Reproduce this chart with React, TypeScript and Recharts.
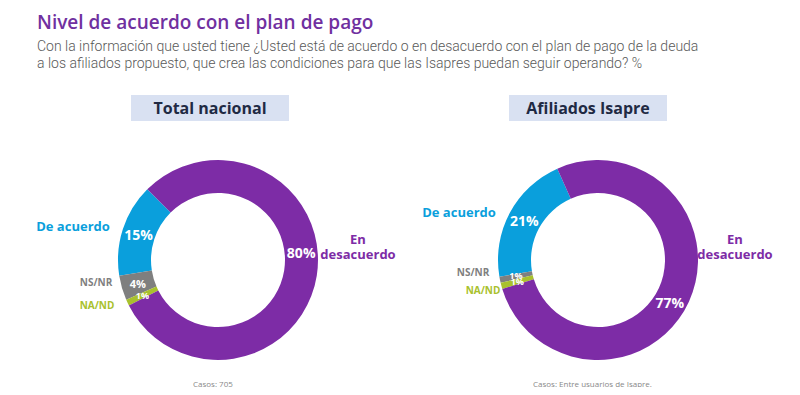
import React from "react";
import { PieChart, Pie, Cell } from "recharts";

const categories = ["De acuerdo", "NS/NR", "NA/ND", "En desacuerdo"];
const totalNacional = [15, 4, 1, 80];
const afiliadosIsapre = [21, 1, 1, 77];
const colors = ["#0a9fdc", "#7f7f7f", "#a9c12d", "#7d2ca6"];

const title = "Nivel de acuerdo con el plan de pago";
const subtitle1 =
  "Con la información que usted tiene ¿Usted está de acuerdo o en desacuerdo con el plan de pago de la deuda";
const subtitle2 =
  "a los afiliados propuesto, que crea las condiciones para que las Isapres puedan seguir operando?  %";

const font = "'Open Sans', 'Noto Sans', sans-serif";

const toRows = (values: number[]) =>
  categories.map((name, i) => ({ name, value: values[i] }));

const RAD = Math.PI / 180;

// nudges (degrees) for the in-ring percentage labels
const leftLabelTurn = [0, 0, 0, 14];
const rightLabelTurn = [0, -1, 0, -6];

const makePct = (turn: number[]) => (props: any) => {
  const { cx, cy, midAngle, innerRadius, outerRadius, value, index } = props;
  const r = (innerRadius + outerRadius) / 2;
  const a = (midAngle + (turn[index] || 0)) * RAD;
  const x = cx + r * Math.cos(-a);
  const y = cy + r * Math.sin(-a);
  const size = value < 2 ? 9 : value < 10 ? 11 : 14;
  return (
    <text
      x={x}
      y={y}
      fill="#fff"
      textAnchor="middle"
      dominantBaseline="central"
      fontFamily={font}
      fontWeight={700}
      fontSize={size}
    >
      {value}%
    </text>
  );
};

// outside category labels: [x, y] centres per chart
const leftLabelPos = [
  [73, 226],
  [96, 282],
  [97, 305],
];
const rightLabelPos = [
  [459, 212],
  [473, 272],
  [483, 290],
];

function Header({ x, w, text }: { x: number; w: number; text: string }) {
  return (
    <div
      style={{
        position: "absolute",
        left: x,
        top: 95,
        width: w,
        height: 26,
        background: "#d9e1f2",
        color: "#1f2a44",
        fontFamily: font,
        fontWeight: 700,
        fontSize: 16,
        lineHeight: "26px",
        textAlign: "center",
      }}
    >
      {text}
    </div>
  );
}

function OutLabel({ x, y, text, color, size }: any) {
  return (
    <div
      style={{
        position: "absolute",
        left: x,
        top: y,
        transform: "translate(-50%, -50%)",
        color,
        fontFamily: font,
        fontWeight: 700,
        fontSize: size,
        whiteSpace: "nowrap",
        textAlign: "center",
        lineHeight: "15px",
      }}
    >
      {text}
    </div>
  );
}

const footStyle: React.CSSProperties = {
  position: "absolute",
  top: 379,
  fontFamily: font,
  fontSize: 8,
  lineHeight: "10px",
  color: "#888",
  whiteSpace: "nowrap",
};

export default function App() {
  return (
    <div
      style={{
        position: "relative",
        width: 800,
        height: 395,
        margin: -8,
        background: "#fff",
        overflow: "hidden",
      }}
    >
      <div
        style={{
          position: "absolute",
          left: 37,
          top: 9,
          color: "#7030a0",
          fontFamily: font,
          fontWeight: 600,
          fontSize: 19,
        }}
      >
        {title}
      </div>
      <div
        style={{
          position: "absolute",
          left: 37,
          top: 38,
          color: "#595959",
          fontFamily: "Roboto, sans-serif",
          fontWeight: 300,
          fontSize: 14,
          lineHeight: "17px",
          whiteSpace: "nowrap",
        }}
      >
        <div>{subtitle1}</div>
        <div>{subtitle2}</div>
      </div>

      <Header x={131} w={158} text="Total nacional" />
      <Header x={509} w={158} text="Afiliados Isapre" />

      <div style={{ position: "absolute", left: 0, top: 0 }}>
        <PieChart width={800} height={395}>
          <Pie
            data={toRows(totalNacional)}
            dataKey="value"
            cx={213}
            cy={255}
            innerRadius={67}
            outerRadius={100}
            startAngle={135}
            endAngle={495}
            stroke="none"
            label={makePct(leftLabelTurn)}
            labelLine={false}
            isAnimationActive={false}
          >
            {categories.map((c, i) => (
              <Cell key={c} fill={colors[i]} />
            ))}
          </Pie>
          <Pie
            data={toRows(afiliadosIsapre)}
            dataKey="value"
            cx={593}
            cy={255}
            innerRadius={67}
            outerRadius={100}
            startAngle={114}
            endAngle={474}
            stroke="none"
            label={makePct(rightLabelTurn)}
            labelLine={false}
            isAnimationActive={false}
          >
            {categories.map((c, i) => (
              <Cell key={c} fill={colors[i]} />
            ))}
          </Pie>
        </PieChart>
      </div>

      {leftLabelPos.map(([x, y], i) => (
        <OutLabel
          key={"l" + i}
          x={x}
          y={y}
          text={categories[i]}
          color={colors[i]}
          size={i === 0 ? 13 : 10}
        />
      ))}
      {rightLabelPos.map(([x, y], i) => (
        <OutLabel
          key={"r" + i}
          x={x}
          y={y}
          text={categories[i]}
          color={colors[i]}
          size={i === 0 ? 13 : 10}
        />
      ))}
      <OutLabel
        x={358}
        y={247}
        text={
          <>
            En
            <br />
            desacuerdo
          </>
        }
        color={colors[3]}
        size={13}
      />
      <OutLabel
        x={735}
        y={247}
        text={
          <>
            En
            <br />
            desacuerdo
          </>
        }
        color={colors[3]}
        size={13}
      />

      <div style={{ ...footStyle, left: 193 }}>Casos: 705</div>
      <div style={{ ...footStyle, left: 533 }}>
        Casos: Entre usuarios de Isapre.
      </div>
    </div>
  );
}
